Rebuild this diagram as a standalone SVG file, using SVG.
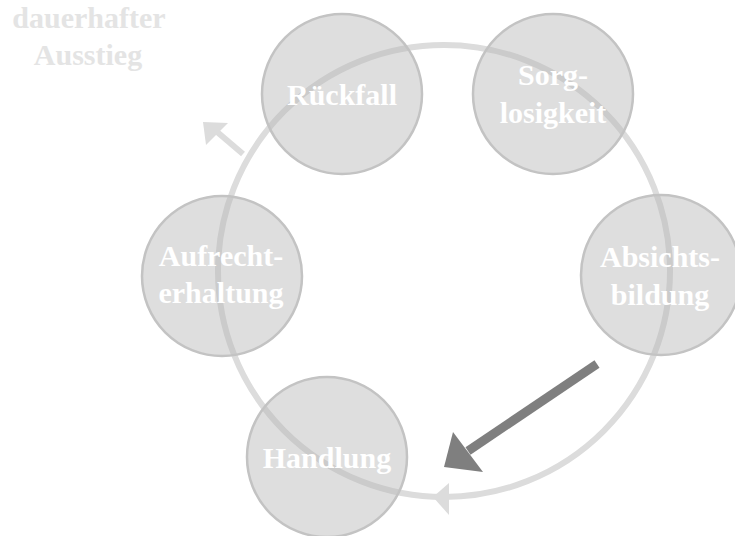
<svg xmlns="http://www.w3.org/2000/svg" width="735" height="536" viewBox="0 0 735 536">
<style>
.node circle{fill:#b8b8b8;fill-opacity:0.46;stroke:#c3c3c3;stroke-width:2.5}
.node text,.lbl{font-family:"Liberation Serif","Times New Roman",serif;font-weight:bold;font-size:30px;text-anchor:middle}
.node text{fill:#ffffff}
.lbl{fill:#e4e4e4}
</style>
<rect width="735" height="536" fill="#ffffff"/>
<g id="connectors">
  <circle cx="444" cy="271" r="226" fill="none" stroke="#dcdcdc" stroke-width="6"/>
  <polygon points="433,497 449,483 449,515" fill="#dcdcdc"/>
  <line x1="243" y1="154" x2="216" y2="131" stroke="#dcdcdc" stroke-width="6"/>
  <polygon points="203,122 228,123 206,145" fill="#dcdcdc"/>
  <line x1="597" y1="364" x2="468" y2="451" stroke="#7f7f7f" stroke-width="9"/>
  <polygon points="444,467 453,432 483,472" fill="#7f7f7f"/>
</g>
<g id="node-rueckfall" class="node">
  <circle cx="342" cy="94" r="80"/>
  <text x="342" y="105">Rückfall</text>
</g>
<g id="node-sorglosigkeit" class="node">
  <circle cx="553" cy="94" r="80"/>
  <text x="553" y="85">Sorg-</text>
  <text x="553" y="123">losigkeit</text>
</g>
<g id="node-absichtsbildung" class="node">
  <circle cx="661" cy="275" r="80"/>
  <text x="660" y="267">Absichts-</text>
  <text x="660" y="305">bildung</text>
</g>
<g id="node-handlung" class="node">
  <circle cx="327" cy="457" r="80"/>
  <text x="327" y="468">Handlung</text>
</g>
<g id="node-aufrechterhaltung" class="node">
  <circle cx="222" cy="276" r="80"/>
  <text x="221" y="266">Aufrecht-</text>
  <text x="221" y="303">erhaltung</text>
</g>
<g id="label-ausstieg">
  <text class="lbl" x="89" y="28">dauerhafter</text>
  <text class="lbl" x="88" y="65">Ausstieg</text>
</g>
</svg>
